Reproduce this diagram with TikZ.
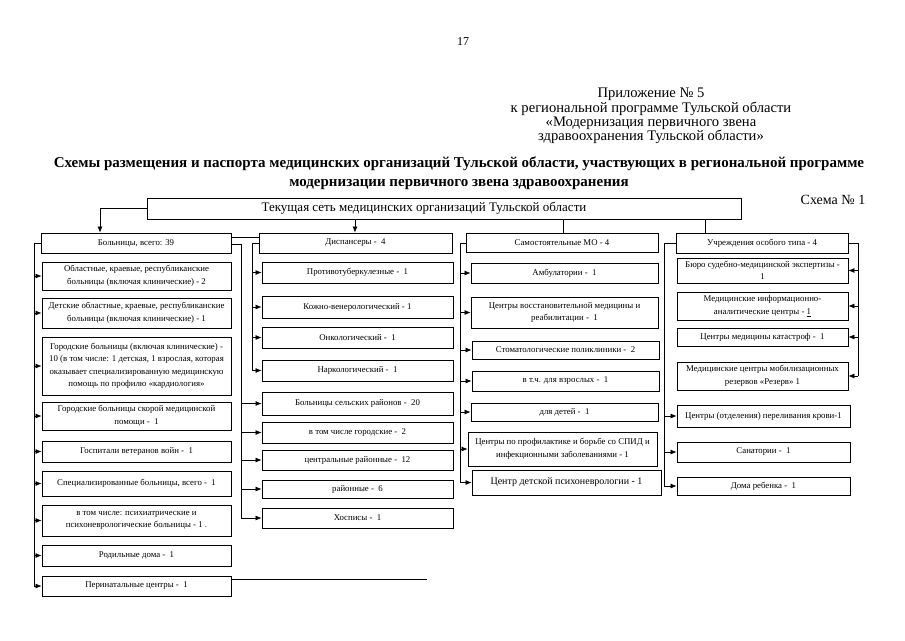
\documentclass[tikz,border=0pt]{standalone}
\usepackage{fontspec}
\setmainfont{Liberation Serif}
\usetikzlibrary{arrows.meta}
\newcommand\bxnode[6]{\node[bx, minimum width={(#4-#2)*1pt}, minimum height={(#5-#3)*1pt}] (#1) at ({(#2+#4)/2},{(#3+#5)/2}) {#6};}
\newcommand\tightlines{\setlength{\lineskiplimit}{-20pt}}
\begin{document}
\begin{tikzpicture}[x=1pt,y=-1pt,
  bx/.style={draw, line width=0.8pt, inner sep=0pt, align=center, font=\fontsize{8.8}{12.5}\selectfont},
  arr/.style={-{Latex[length=6pt,width=5pt]}, line width=0.7pt},
  ln/.style={line width=0.7pt}]
\useasboundingbox (0,0) rectangle (905,640);
% header
\node (pg) at (463,42) {\fontsize{12}{12}\selectfont 17};
\node[align=center, font=\fontsize{14.6}{14.4}\selectfont\tightlines] (app) at (651,116) {Приложение № 5\\к региональной программе Тульской области\\«Модернизация первичного звена\\здравоохранения Тульской области»};
\node[align=center, font=\bfseries\fontsize{15}{19}\selectfont] (title) at (459,173) {Схемы размещения и паспорта медицинских организаций Тульской области, участвующих в региональной программе\\модернизации первичного звена здравоохранения};
\node (schema) at (833,200) {\fontsize{14}{14}\selectfont Схема № 1};
% top box
\bxnode{top}{147}{198}{741}{219}{\fontsize{13}{13}\selectfont\hspace*{-40pt}Текущая сеть медицинских организаций Тульской области}
% column 1
\bxnode{hosp}{41}{233}{231}{253}{Больницы, всего: 39}
\bxnode{h1}{42}{262}{231}{290}{Областные, краевые, республиканские\\больницы (включая клинические) - 2}
\bxnode{h2}{42}{298}{231}{328}{Детские областные, краевые, республиканские\\больницы (включая клинические) - 1}
\bxnode{h3}{42}{337}{231}{395}{Городские больницы (включая клинические) -\\10 (в том числе: 1 детская, 1 взрослая, которая\\оказывает специализированную медицинскую\\помощь по профилю «кардиология»}
\bxnode{h4}{42}{402}{231}{430}{Городские больницы скорой медицинской\\помощи - \ 1}
\bxnode{h5}{42}{441}{231}{462}{Госпитали ветеранов войн - \ 1}
\bxnode{h6}{42}{471}{231}{496}{Специализированные больницы, всего - \ 1}
\bxnode{h7}{42}{505}{231}{536}{в том числе: психиатрические и\\психоневрологические больницы - 1 .}
\bxnode{h8}{42}{545}{231}{566}{Родильные дома - \ 1}
\bxnode{h9}{42}{576}{231}{596}{Перинатальные центры - \ 1}
% column 2
\bxnode{disp}{259}{233}{452}{253}{Диспансеры - \ 4}
\bxnode{d1}{262}{262}{453}{283}{Противотуберкулезные - \ 1}
\bxnode{d2}{262}{296}{453}{318}{Кожно-венерологический - 1}
\bxnode{d3}{262}{327}{453}{348}{Онкологический - \ 1}
\bxnode{d4}{262}{360}{453}{381}{Наркологический - \ 1}
\bxnode{r1}{262}{392}{453}{415}{Больницы сельских районов - \ 20}
\bxnode{r2}{262}{422}{453}{443}{в том числе городские - \ 2}
\bxnode{r3}{262}{450}{453}{470}{центральные районные - \ 12}
\bxnode{r4}{262}{480}{453}{498}{районные - \ 6}
\bxnode{r5}{262}{508}{453}{528}{Хосписы - \ 1}
% column 3
\bxnode{mo}{466}{233}{658}{252}{Самостоятельные МО - 4}
\bxnode{m1}{471}{263}{658}{283}{Амбулатории - \ 1}
\bxnode{m2}{471}{297}{658}{328}{Центры восстановительной медицины и\\реабилитации - \ 1}
\bxnode{m3}{472}{341}{659}{359}{Стоматологические поликлиники - \ 2}
\bxnode{m4}{472}{371}{659}{391}{в т.ч. для взрослых - \ 1}
\bxnode{m5}{471}{403}{658}{421}{для детей - \ 1}
\bxnode{m6}{468}{432}{657}{466}{Центры по профилактике и борьбе со СПИД и\\инфекционными заболеваниями - 1}
\bxnode{m7}{472}{470}{661}{495}{\fontsize{10}{12}\selectfont Центр детской психоневрологии - 1}
% column 4
\bxnode{os}{676}{233}{848}{253}{Учреждения особого типа - 4}
\bxnode{o1}{677}{258}{848}{283}{Бюро судебно-медицинской экспертизы -\\1}
\bxnode{o2}{677}{292}{848}{320}{Медицинские информационно-\\аналитические центры - \underline{1}}
\bxnode{o3}{677}{328}{848}{346}{Центры медицины катастроф - \ 1}
\bxnode{o4}{677}{362}{848}{390}{Медицинские центры мобилизационных\\резервов «Резерв» 1}
\bxnode{o5}{677}{405}{850}{427}{Центры (отделения) переливания крови-1}
\bxnode{o6}{677}{442}{850}{462}{Санатории - \ 1}
\bxnode{o7}{677}{477}{850}{495}{Дома ребенка - \ 1}
% connectors from top box
\coordinate (xl) at (100,0);
\coordinate (xd) at (355,0);
\coordinate (xm) at (563,0);
\coordinate (xo) at (705,0);
\draw[arr] (top.west) -| (hosp.north -| xl);
\draw[arr] (top.south -| xd) -- (disp.north -| xd);
\draw[ln] (top.south -| xm) -- (mo.north -| xm);
\draw[ln] (top.south -| xo) -- (os.north -| xo);
% column 1 trunk
\coordinate (t1) at (34,0);
\draw[ln] (hosp.west) -| (t1 |- h9.west);
\foreach \n in {h1,h2,h3,h4,h5,h6,h7,h8,h9} \draw[arr] (t1 |- \n.west) -- (\n.west);
% hospitals <-> dispensaries link
\coordinate (yl) at (0,237);
\draw[ln] (hosp.east |- yl) -- (disp.west |- yl);
% hospitals right trunk
\coordinate (t2) at (241,244);
\draw[ln] (hosp.east |- t2) -- (t2) -- (t2 |- r5.west);
\foreach \n in {r1,r2,r3,r4,r5} \draw[arr] (t2 |- \n.west) -- (\n.west);
% dispensaries trunk
\coordinate (t3) at (252,243);
\draw[ln] (disp.west |- t3) -- (t3) -- (t3 |- d4.west);
\foreach \n in {d1,d2,d3,d4} \draw[arr] (t3 |- \n.west) -- (\n.west);
% column 3 trunk
\coordinate (t4) at (460,243);
\draw[ln] (mo.west |- t4) -- (t4) -- (t4 |- m7.west);
\foreach \n in {m1,m2,m3,m4,m5,m6,m7} \draw[arr] (t4 |- \n.west) -- (\n.west);
% column 4 right trunk
\coordinate (t5) at (858,243);
\draw[ln] (os.east |- t5) -- (t5) -- (t5 |- o4.east);
\foreach \n in {o1,o2,o3,o4} \draw[arr] (t5 |- \n.east) -- (\n.east);
% column 4 left trunk
\coordinate (t6) at (664,243);
\draw[ln] (os.west |- t6) -- (t6) -- (t6 |- o7.west);
\foreach \n in {o5,o6,o7} \draw[arr] (t6 |- \n.west) -- (\n.west);
% line beside perinatal centres
\coordinate (pe) at (427,579);
\draw[ln] (h9.east |- pe) -- (pe);
\end{tikzpicture}
\end{document}
